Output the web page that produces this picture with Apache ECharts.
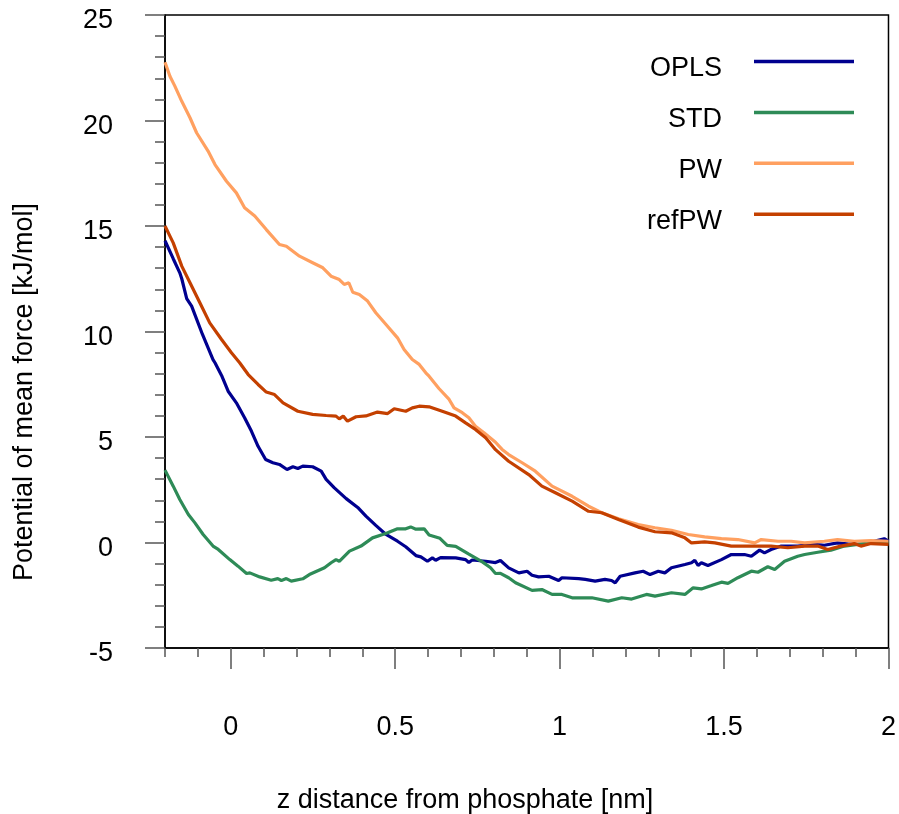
<!DOCTYPE html>
<html>
<head>
<meta charset="utf-8">
<script src="https://cdn.jsdelivr.net/npm/echarts@6/dist/echarts.min.js"></script>
<style>html,body{margin:0;padding:0;background:#fff}#c{width:899px;height:814px}</style>
</head>
<body>
<div id="c"></div>
<script>
var seriesNames = ['OPLS', 'STD', 'PW', 'refPW'];
var xLabelValues = [0, 0.5, 1, 1.5, 2];
var xMajorTicks = [0, 0.5, 1, 1.5, 2];

var opls = [[-0.2,14.3],[-0.175,13.45],[-0.155,12.78],[-0.149,12.5],[-0.134,11.56],[-0.119,11.2],[-0.086,9.86],[-0.054,8.67],[-0.048,8.52],[-0.028,7.92],[-0.008,7.17],[0.017,6.62],[0.042,5.91],[0.063,5.27],[0.083,4.56],[0.106,3.93],[0.128,3.78],[0.148,3.70],[0.171,3.46],[0.189,3.59],[0.204,3.51],[0.219,3.62],[0.249,3.59],[0.275,3.38],[0.290,2.99],[0.315,2.59],[0.351,2.08],[0.386,1.66],[0.411,1.25],[0.441,0.81],[0.472,0.38],[0.507,0.06],[0.532,-0.2],[0.563,-0.62],[0.578,-0.68],[0.598,-0.89],[0.613,-0.73],[0.623,-0.84],[0.638,-0.72],[0.684,-0.73],[0.714,-0.81],[0.724,-0.95],[0.734,-0.83],[0.775,-0.89],[0.805,-0.95],[0.820,-0.85],[0.845,-1.20],[0.876,-1.44],[0.901,-1.36],[0.916,-1.55],[0.936,-1.63],[0.967,-1.60],[0.997,-1.80],[1.007,-1.67],[1.058,-1.71],[1.078,-1.75],[1.108,-1.83],[1.138,-1.75],[1.158,-1.80],[1.169,-1.91],[1.184,-1.60],[1.229,-1.44],[1.254,-1.36],[1.275,-1.52],[1.300,-1.36],[1.320,-1.44],[1.340,-1.20],[1.381,-1.04],[1.401,-0.96],[1.411,-0.84],[1.421,-1.09],[1.431,-0.96],[1.451,-1.09],[1.492,-0.81],[1.522,-0.57],[1.562,-0.57],[1.583,-0.65],[1.608,-0.36],[1.623,-0.49],[1.643,-0.33],[1.674,-0.17],[1.724,-0.17],[1.775,-0.09],[1.805,-0.13],[1.845,-0.02],[1.886,-0.09],[1.926,-0.09],[1.956,0.06],[1.987,0.18],[2.0,0.06]];

var std = [[-0.2,3.43],[-0.175,2.67],[-0.155,2.04],[-0.129,1.33],[-0.109,0.93],[-0.084,0.38],[-0.054,-0.17],[-0.038,-0.33],[-0.003,-0.81],[0.022,-1.12],[0.048,-1.47],[0.058,-1.44],[0.088,-1.63],[0.123,-1.79],[0.143,-1.71],[0.154,-1.80],[0.169,-1.71],[0.184,-1.83],[0.219,-1.72],[0.239,-1.52],[0.285,-1.20],[0.305,-0.96],[0.320,-0.81],[0.330,-0.89],[0.361,-0.41],[0.396,-0.17],[0.431,0.22],[0.462,0.38],[0.477,0.46],[0.507,0.65],[0.532,0.65],[0.547,0.74],[0.563,0.63],[0.588,0.65],[0.603,0.36],[0.636,0.2],[0.658,-0.14],[0.684,-0.18],[0.724,-0.55],[0.765,-0.92],[0.790,-1.20],[0.805,-1.47],[0.820,-1.46],[0.845,-1.67],[0.866,-1.91],[0.916,-2.27],[0.946,-2.23],[0.977,-2.46],[1.007,-2.46],[1.038,-2.62],[1.098,-2.62],[1.148,-2.78],[1.189,-2.62],[1.219,-2.68],[1.264,-2.46],[1.290,-2.54],[1.340,-2.38],[1.381,-2.46],[1.406,-2.15],[1.431,-2.20],[1.462,-2.04],[1.492,-1.88],[1.512,-1.94],[1.542,-1.67],[1.583,-1.36],[1.603,-1.41],[1.633,-1.15],[1.654,-1.28],[1.684,-0.89],[1.724,-0.65],[1.745,-0.57],[1.785,-0.46],[1.825,-0.36],[1.866,-0.17],[1.906,-0.09],[1.947,-0.02],[2.0,-0.02]];

var pw = [[-0.2,22.76],[-0.185,22.1],[-0.170,21.63],[-0.149,20.91],[-0.124,20.13],[-0.104,19.42],[-0.069,18.55],[-0.048,17.91],[-0.013,17.12],[0.017,16.57],[0.042,15.86],[0.073,15.47],[0.108,14.83],[0.148,14.12],[0.169,14.04],[0.209,13.57],[0.249,13.26],[0.280,13.02],[0.305,12.62],[0.330,12.46],[0.345,12.23],[0.359,12.31],[0.371,11.86],[0.391,11.75],[0.416,11.44],[0.441,10.89],[0.472,10.33],[0.507,9.70],[0.527,9.15],[0.552,8.67],[0.573,8.44],[0.593,8.04],[0.603,7.88],[0.633,7.3],[0.664,6.78],[0.679,6.38],[0.704,6.15],[0.724,5.91],[0.744,5.51],[0.770,5.20],[0.805,4.75],[0.825,4.41],[0.845,4.17],[0.886,3.78],[0.926,3.38],[0.977,2.67],[1.038,2.19],[1.088,1.72],[1.128,1.41],[1.179,1.12],[1.239,0.85],[1.290,0.70],[1.340,0.58],[1.391,0.38],[1.441,0.27],[1.492,0.18],[1.542,0.14],[1.593,-0.02],[1.613,0.14],[1.664,0.06],[1.704,0.06],[1.745,-0.02],[1.805,0.06],[1.845,0.14],[1.896,0.06],[1.947,0.09],[2.0,0.06]];

var refpw = [[-0.2,15.0],[-0.185,14.52],[-0.175,14.20],[-0.149,13.10],[-0.124,12.31],[-0.094,11.36],[-0.064,10.41],[-0.028,9.62],[0.002,8.99],[0.027,8.52],[0.053,7.96],[0.083,7.49],[0.108,7.13],[0.133,7.01],[0.159,6.62],[0.204,6.22],[0.249,6.07],[0.290,6.02],[0.320,5.99],[0.330,5.86],[0.342,5.99],[0.355,5.75],[0.381,5.96],[0.411,6.0],[0.446,6.18],[0.477,6.11],[0.497,6.34],[0.532,6.22],[0.552,6.38],[0.573,6.46],[0.603,6.43],[0.643,6.22],[0.684,5.99],[0.714,5.67],[0.744,5.36],[0.775,4.96],[0.805,4.4],[0.845,3.85],[0.906,3.22],[0.946,2.67],[0.987,2.36],[1.038,1.96],[1.088,1.48],[1.128,1.41],[1.179,1.09],[1.239,0.73],[1.290,0.51],[1.340,0.46],[1.381,0.22],[1.401,-0.02],[1.441,0.03],[1.472,-0.02],[1.522,-0.17],[1.593,-0.17],[1.643,-0.17],[1.694,-0.25],[1.745,-0.17],[1.785,-0.17],[1.815,-0.33],[1.855,-0.17],[1.896,-0.05],[1.916,-0.17],[1.947,-0.05],[2.0,-0.09]];

var seriesData = [opls, std, pw, refpw];
var colors = ['#00008f', '#2e8b57', '#ffa060', '#c44000'];
var FONT = '"Liberation Sans", Arial, Helvetica, sans-serif';
var FS = 27;

var chart = echarts.init(document.getElementById('c'), null, {renderer: 'canvas'});

var legends = seriesNames.map(function (name, i) {
  return {
    orient: 'vertical', align: 'right', right: 45, top: 55 + i * 50.9, padding: 0,
    itemWidth: 100, itemHeight: 3.5, icon: 'path://M0,0H100V3.5H0Z',
    formatter: '{t|{name}}',
    textStyle: {fontSize: FS, fontFamily: FONT, color: '#000',
      rich: {t: {fontSize: FS, fontFamily: FONT, color: '#000', padding: [14, 27, 0, 0]}}},
    data: [name]
  };
});

var option = {
  animation: false,
  backgroundColor: '#fff',
  grid: {left: 165, right: 8, top: 15, bottom: 166, show: true, borderColor: '#000', borderWidth: 1.5, backgroundColor: 'transparent'},
  xAxis: [
    {type: 'value', min: -0.2, max: 2, interval: 0.1,
     axisLine: {show: true, onZero: false, lineStyle: {color: '#000', width: 1.5}},
     axisTick: {show: true, length: 9, lineStyle: {color: '#555', width: 1.5}},
     axisLabel: {customValues: xLabelValues, margin: 66, fontSize: FS, fontFamily: FONT, color: '#000',
                 formatter: function (v) { return String(v); }},
     splitLine: {show: false}},
    {type: 'value', min: -0.2, max: 2, position: 'bottom',
     axisLine: {show: false, onZero: false},
     axisTick: {show: true, customValues: xMajorTicks, length: 21, lineStyle: {color: '#555', width: 1.5}},
     axisLabel: {show: false},
     splitLine: {show: false}}
  ],
  yAxis: {type: 'value', min: -5, max: 25, interval: 5,
    axisLine: {show: true, onZero: false, lineStyle: {color: '#000', width: 1.5}},
    axisTick: {show: true, length: 20, lineStyle: {color: '#555', width: 1.5}},
    minorTick: {show: true, splitNumber: 5, length: 10, lineStyle: {color: '#555', width: 1.5}},
    axisLabel: {margin: 52, color: '#000', formatter: '{v|{value}}',
      rich: {v: {fontSize: FS, fontFamily: FONT, color: '#000', padding: [12, 0, 0, 0]}}},
    splitLine: {show: false}},
  legend: legends,
  graphic: [
    {type: 'text', x: 465, y: 801, style: {text: 'z distance from phosphate [nm]', font: FS + 'px ' + FONT, fill: '#000', align: 'center', verticalAlign: 'middle'}},
    {type: 'text', x: 25, y: 392, rotation: Math.PI / 2, style: {text: 'Potential of mean force [kJ/mol]', font: FS + 'px ' + FONT, fill: '#000', align: 'center', verticalAlign: 'middle'}}
  ],
  series: seriesNames.map(function (name, i) {
    return {name: name, type: 'line', xAxisIndex: 0, data: seriesData[i], symbol: 'none', smooth: false,
      lineStyle: {color: colors[i], width: 3.2}, itemStyle: {color: colors[i]}, z: 2 + i};
  })
};
chart.setOption(option);
</script>
</body>
</html>
